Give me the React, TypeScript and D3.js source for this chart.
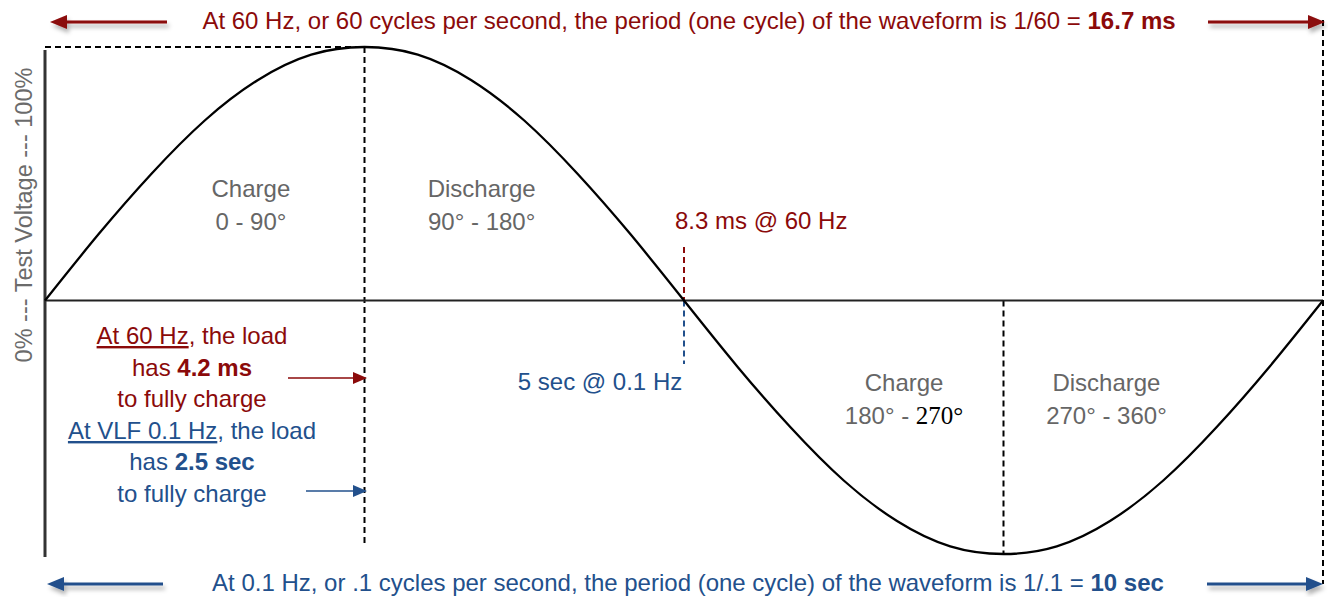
import React, { useEffect, useRef } from 'react';
import * as d3 from 'd3';

// Waveform samples: phase in degrees, test voltage in % of peak
const phaseDeg = [0, 15, 30, 45, 60, 75, 90, 105, 120, 135, 150, 165, 180, 195, 210, 225, 240, 255, 270, 285, 300, 315, 330, 345, 360];
const voltagePct = [0, 26, 50, 71, 87, 97, 100, 97, 87, 71, 50, 26, 0, -26, -50, -71, -87, -97, -100, -97, -87, -71, -50, -26, 0];

// Quarter-cycle labels
const phaseLabels = ['Charge', 'Discharge', 'Charge', 'Discharge'];
const phaseRanges = ['0 - 90°', '90° - 180°', '180° - ', '270° - 360°'];
const phaseLabelDeg = [58, 123, 242, 299];

const topTitle = 'At 60 Hz, or 60 cycles per second, the period (one cycle) of the waveform is 1/60 = ';
const topTitleBold = '16.7 ms';
const bottomTitle = 'At 0.1 Hz, or .1 cycles per second, the period (one cycle) of the waveform is 1/.1 = ';
const bottomTitleBold = '10 sec';
const yLabel = '0% --- Test Voltage --- 100%';

const RED = '#8b0a0a';
const BLUE = '#22508c';
const GRAY = '#666666';
const FONT = '"Liberation Sans", Arial, sans-serif';

type Pt = { deg: number; v: number };

const App: React.FC = () => {
  const svgRef = useRef<SVGSVGElement | null>(null);

  useEffect(() => {
    if (!svgRef.current) return;
    const width = 1328;
    const height = 597;

    const svg = d3.select(svgRef.current);
    svg.selectAll('*').remove();

    const data: Pt[] = phaseDeg.map((d, i) => ({ deg: d, v: voltagePct[i] }));

    const x = d3.scaleLinear().domain([0, 360]).range([45, 1323]);
    const y = d3.scaleLinear().domain([-100, 100]).range([554, 47]);

    // drop shadow for the big arrows
    const defs = svg.append('defs');
    const f = defs
      .append('filter')
      .attr('id', 'shadow')
      .attr('x', '-20%')
      .attr('y', '-100%')
      .attr('width', '140%')
      .attr('height', '400%');
    f.append('feDropShadow')
      .attr('dx', 2)
      .attr('dy', 4)
      .attr('stdDeviation', 2.2)
      .attr('flood-color', '#000')
      .attr('flood-opacity', 0.3);

    const dashed = (x1: number, y1: number, x2: number, y2: number, color = '#000') =>
      svg
        .append('line')
        .attr('x1', x1)
        .attr('y1', y1)
        .attr('x2', x2)
        .attr('y2', y2)
        .attr('stroke', color)
        .attr('stroke-width', 2)
        .attr('stroke-dasharray', '6,4');

    // arrow: line from tail to tip with a filled head
    const arrow = (x1: number, x2: number, yy: number, color: string, head: number, half: number, w: number, shadow: boolean) => {
      const g = svg.append('g');
      if (shadow) g.attr('filter', 'url(#shadow)');
      const dir = x2 > x1 ? 1 : -1;
      g.append('line')
        .attr('x1', x1)
        .attr('y1', yy)
        .attr('x2', x2 - dir * head)
        .attr('y2', yy)
        .attr('stroke', color)
        .attr('stroke-width', w);
      g.append('path')
        .attr('d', `M${x2},${yy} L${x2 - dir * head},${yy - half} L${x2 - dir * head},${yy + half} Z`)
        .attr('fill', color);
    };

    // reference dashed lines
    dashed(x(0), y(100), x(90), y(100));
    dashed(x(90), y(100), x(90), 546);
    dashed(x(270), y(0), x(270), y(-100));
    dashed(x(360), 20, x(360), 584);
    dashed(x(180), 247, x(180), y(0), RED);
    dashed(x(180), y(0), x(180), 364, BLUE);

    // zero line and left axis
    svg
      .append('line')
      .attr('x1', x(0))
      .attr('x2', x(360))
      .attr('y1', y(0))
      .attr('y2', y(0))
      .attr('stroke', '#222')
      .attr('stroke-width', 2);
    svg
      .append('line')
      .attr('x1', x(0))
      .attr('x2', x(0))
      .attr('y1', 50)
      .attr('y2', 557)
      .attr('stroke', '#333')
      .attr('stroke-width', 3);

    // the waveform
    const line = d3
      .line<Pt>()
      .x((d) => x(d.deg))
      .y((d) => y(d.v))
      .curve(d3.curveNatural);
    svg
      .append('path')
      .datum(data)
      .attr('d', line)
      .attr('fill', 'none')
      .attr('stroke', '#000')
      .attr('stroke-width', 2.3);

    const text = (tx: number, ty: number, color: string, size = 24, anchor = 'middle') =>
      svg
        .append('text')
        .attr('x', tx)
        .attr('y', ty)
        .attr('text-anchor', anchor)
        .attr('fill', color)
        .attr('font-family', FONT)
        .attr('font-size', size);

    // titles
    const t1 = text(689, 29, RED);
    t1.append('tspan').text(topTitle);
    t1.append('tspan').attr('font-weight', 'bold').text(topTitleBold);
    const t2 = text(688, 591, BLUE);
    t2.append('tspan').text(bottomTitle);
    t2.append('tspan').attr('font-weight', 'bold').text(bottomTitleBold);

    arrow(167, 50, 22, RED, 17, 7, 3, true);
    arrow(1208, 1325, 22, RED, 17, 7, 3, true);
    arrow(163, 47, 584, BLUE, 17, 7, 3, true);
    arrow(1207, 1323, 584, BLUE, 17, 7, 3, true);

    // y label
    svg
      .append('text')
      .attr('transform', `translate(32,215) rotate(-90)`)
      .attr('text-anchor', 'middle')
      .attr('fill', '#6b6b6b')
      .attr('font-family', FONT)
      .attr('font-size', 23.5)
      .text(yLabel);

    // quarter-cycle labels
    phaseLabels.forEach((lab, i) => {
      const base = i < 2 ? 197 : 391;
      text(x(phaseLabelDeg[i]), base, GRAY).text(lab);
      const r = text(x(phaseLabelDeg[i]), base + 33, GRAY);
      r.append('tspan').text(phaseRanges[i]);
      if (i === 2) {
        r.append('tspan')
          .attr('fill', '#000')
          .attr('font-family', '"Liberation Serif", "Times New Roman", serif')
          .attr('font-size', 25)
          .text('270°');
      }
    });

    // crossing labels
    text(675, 229, RED, 24, 'start').text('8.3 ms @ 60 Hz');
    text(600, 390, BLUE).text('5 sec @ 0.1 Hz');

    // left note block
    const cx = 192;
    const l1 = text(cx, 344, RED);
    l1.append('tspan').attr('text-decoration', 'underline').text('At 60 Hz');
    l1.append('tspan').text(', the load');
    const l2 = text(cx, 376, RED);
    l2.append('tspan').text('has ');
    l2.append('tspan').attr('font-weight', 'bold').text('4.2 ms');
    text(cx, 407, RED).text('to fully charge');
    const l4 = text(cx, 439, BLUE);
    l4.append('tspan').attr('text-decoration', 'underline').text('At VLF 0.1 Hz');
    l4.append('tspan').text(', the load');
    const l5 = text(cx, 470, BLUE);
    l5.append('tspan').text('has ');
    l5.append('tspan').attr('font-weight', 'bold').text('2.5 sec');
    text(cx, 502, BLUE).text('to fully charge');

    arrow(288, 367, 378, RED, 14, 6, 1.6, false);
    arrow(306, 367, 491, BLUE, 14, 6, 1.6, false);

    svg.attr('width', width).attr('height', height);
  }, []);

  return (
    <svg
      ref={svgRef}
      width={1328}
      height={597}
      style={{ position: 'absolute', left: 0, top: 0, background: '#fff' }}
    />
  );
};

export default App;
